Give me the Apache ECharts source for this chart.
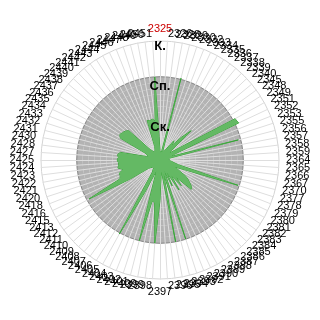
<!DOCTYPE html>
<html><head><meta charset="utf-8">
<script src="https://cdn.jsdelivr.net/npm/echarts@6/dist/echarts.min.js"></script>
<style>html,body{margin:0;padding:0;background:#fff}#c{width:320px;height:320px}</style>
</head><body><div id="c"></div>
<script>
// Categories, clockwise from the top
const categories = [
  '2325','2326','2328','2329','2330','2332','2333',
  '2334','2335','2336','2337','2338','2339','2340','2345','2348','2349','2351','2352','2353','2355','2356',
  '2357','2358','2359','2364','2365','2366','2367','2370','2377','2378','2379','2380','2381','2382','2383',
  '2384','2385','2386','2387',
  '2388','2389','2390','2391','2392','2393','2394','2395','2396','2397','2398','2399','2400','2401','2402',
  '2403','2404','2405','2406','2407','2408','2409','2410','2411','2412','2413','2415','2416','2418',
  '2420','2421','2422','2423','2424','2425','2427','2428','2430','2431','2432','2433',
  '2434','2435','2436','2437','2438','2439','2440','2441','2442','2443','2444','2445','2446','2447','2448',
  '2449','2450','2451'
];
// Green series values (same order as categories)
const flowValues = [
  0.08,0.07,0.06,0.08,0.71,0.07,0.08,0.09,0.10,0.14,
  0.20,0.16,0.26,0.36,0.12,0.10,0.18,0.72,0.73,0.12,
  0.10,0.68,0.08,0.07,0.08,0.07,0.08,0.10,0.12,0.16,
  0.69,0.22,0.14,0.18,0.26,0.30,0.34,0.36,0.20,0.28,
  0.16,0.30,0.12,0.24,0.10,0.70,0.12,0.70,0.10,0.14,
  0.34,0.70,0.36,0.35,0.70,0.10,0.14,0.30,0.71,0.12,
  0.10,0.08,0.08,0.09,0.10,0.12,0.30,0.68,0.37,0.36,
  0.36,0.32,0.36,0.35,0.35,0.36,0.35,0.36,0.34,0.12,
  0.10,0.12,0.14,0.38,0.40,0.39,0.38,0.36,0.12,0.10,
  0.08,0.08,0.09,0.10,0.12,0.35,0.34,0.35,0.33,0.70
];
// Level names and values
const levelNames = ['К.', 'Сп.', 'Ск.'];
const levelValues = [1.0, 0.7, 0.35];
const highlightedCategory = '2325';

const chart = echarts.init(document.getElementById('c'), null, {renderer: 'canvas'});

// radar runs counter-clockwise: reorder so categories go clockwise
const order = [0];
for (let i = categories.length - 1; i >= 1; i--) order.push(i);
const indicator = order.map(i => ({
  name: categories[i], min: 0, max: 1,
  color: categories[i] === highlightedCategory ? '#cc0000' : '#000'
}));
const seriesData = order.map(i => flowValues[i]);

const splitNumber = 20;
const lineColors = [], areaColors = [];
for (let k = 0; k <= splitNumber; k++) {
  const v = k / splitNumber;
  if (Math.abs(v - levelValues[0]) < 1e-6) lineColors.push('#d4d4d4');
  else if (Math.abs(v - levelValues[1]) < 1e-6) lineColors.push('#858585');
  else if (Math.abs(v - levelValues[2]) < 1e-6) lineColors.push('rgba(140,140,140,0.35)');
  else lineColors.push('rgba(0,0,0,0)');
  if (k < splitNumber) areaColors.push(v < levelValues[1] - 1e-6 ? 'rgba(166,166,166,0.86)' : 'rgba(0,0,0,0)');
}
const labelOffsets = [[0, 5], [0, 10], [0, 9]];

chart.setOption({
  animation: false,
  radar: {
    center: [160, 160],
    radius: 119,
    startAngle: 90,
    shape: 'circle',
    splitNumber: splitNumber,
    indicator: indicator,
    nameGap: 7,
    axisName: {color: '#000', fontSize: 11, fontFamily: 'Liberation Sans'},
    axisLine: {lineStyle: {color: '#dedede', width: 1}},
    splitLine: {show: true, lineStyle: {color: lineColors, width: 1}},
    splitArea: {show: true, areaStyle: {color: areaColors}},
    axisTick: {show: false},
    axisLabel: {show: false}
  },
  polar: {center: [160, 160], radius: 119},
  angleAxis: {type: 'value', min: 0, max: 360, startAngle: 90, show: false},
  radiusAxis: {type: 'value', min: 0, max: 1, show: false},
  series: [
    {
      type: 'radar',
      symbol: 'none',
      silent: true,
      lineStyle: {color: 'rgb(50,160,50)', width: 1},
      areaStyle: {color: 'rgb(100,185,100)', opacity: 1},
      data: [{value: seriesData}]
    },
    {
      type: 'scatter',
      coordinateSystem: 'polar',
      symbolSize: 1,
      silent: true,
      z: 10,
      itemStyle: {color: 'rgba(0,0,0,0)'},
      label: {
        show: true, position: 'inside', color: '#000', fontWeight: 'bold',
        fontSize: 13, fontFamily: 'Liberation Sans', opacity: 1,
        formatter: p => levelNames[p.dataIndex]
      },
      data: levelValues.map((v, i) => ({value: [v, 0], label: {offset: labelOffsets[i]}}))
    }
  ]
});
</script>
</body></html>
